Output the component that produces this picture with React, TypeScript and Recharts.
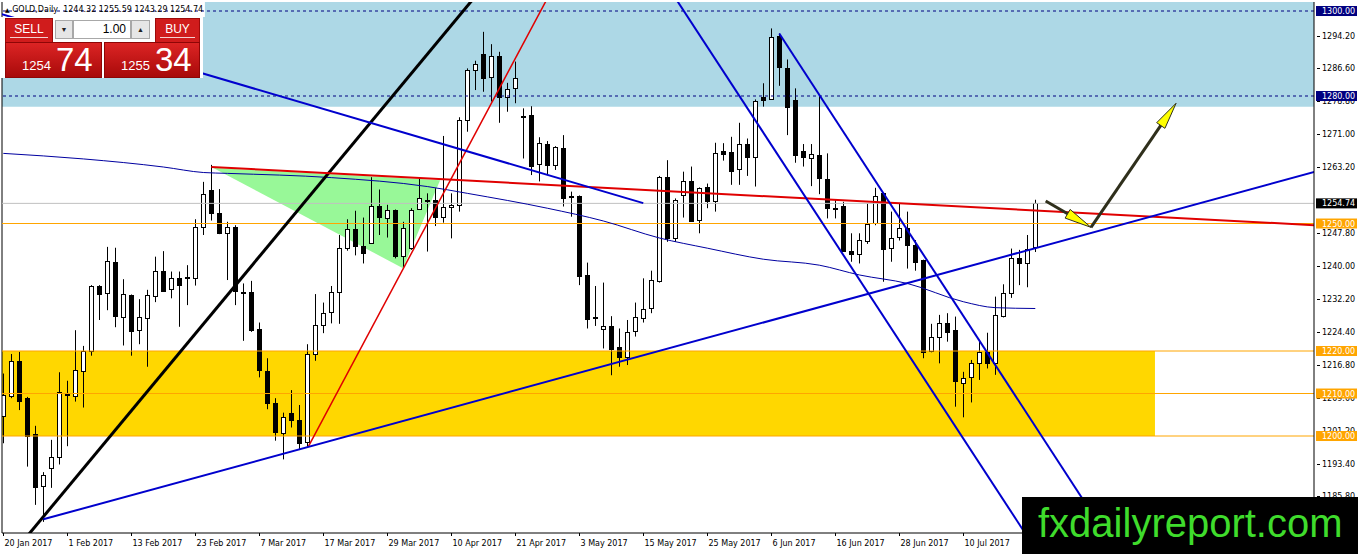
import React from "react";
import {
  ComposedChart,
  Bar,
  Line,
  Area,
  XAxis,
  YAxis,
  ReferenceLine,
  ReferenceArea,
} from "recharts";

// x axis: one unit per daily bar, y axis: price
const dateTicks = [0, 8, 16, 24, 32, 40, 48, 56, 64, 72, 80, 88, 96, 104, 112, 120];
const dateLabels = [
  "20 Jan 2017", "1 Feb 2017", "13 Feb 2017", "23 Feb 2017", "7 Mar 2017", "17 Mar 2017",
  "29 Mar 2017", "10 Apr 2017", "21 Apr 2017", "3 May 2017", "15 May 2017", "25 May 2017",
  "6 Jun 2017", "16 Jun 2017", "28 Jun 2017", "10 Jul 2017",
];

const opens = [
  1204.6, 1209.3, 1217.6, 1209.0, 1200.5, 1188.1, 1192.4, 1195.1, 1209.6, 1209.3,
  1215.4, 1220.1, 1235.4, 1233.6, 1240.9, 1227.9, 1233.2, 1224.8, 1227.7, 1233.0,
  1238.8, 1234.5, 1237.1, 1237.2, 1237.1, 1249.1, 1257.9, 1252.4, 1247.8, 1249.2,
  1234.0, 1233.8, 1225.1, 1215.3, 1207.7, 1200.6, 1205.3, 1203.8, 1198.4, 1219.2,
  1226.1, 1229.0, 1233.8, 1244.1, 1248.6, 1244.7, 1245.3, 1254.1, 1251.4, 1253.2,
  1242.4, 1244.2, 1253.3, 1255.5, 1255.5, 1251.4, 1253.8, 1254.4, 1274.4, 1286.1,
  1290.0, 1284.4, 1289.4, 1279.7, 1281.8, 1275.3, 1275.5, 1263.9, 1268.7, 1263.8,
  1267.8, 1256.4, 1256.5, 1237.9, 1227.9, 1225.1, 1225.9, 1221.0, 1218.7, 1224.5,
  1228.0, 1230.0, 1236.6, 1260.9, 1246.5, 1256.9, 1260.1, 1250.8, 1258.5, 1255.1,
  1267.1, 1266.8, 1262.7, 1268.6, 1265.6, 1279.7, 1279.2, 1294.1, 1286.7, 1279.1,
  1267.1, 1265.3, 1266.1, 1260.4, 1253.6, 1254.1, 1243.6, 1242.8, 1246.0, 1250.0,
  1257.2, 1244.4, 1246.7, 1248.9, 1244.9, 1241.4, 1219.8, 1223.2, 1226.5, 1224.9,
  1212.6, 1213.7, 1217.1, 1219.8, 1217.1, 1228.3, 1233.7, 1242.0, 1240.8, 1244.32,
];
const highs = [
  1214.7, 1219.3, 1219.8, 1209.2, 1202.4, 1191.5, 1199.1, 1215.0, 1213.0, 1224.9,
  1221.2, 1235.5, 1235.5, 1244.5, 1244.3, 1236.9, 1233.3, 1232.2, 1234.4, 1242.2,
  1243.5, 1238.7, 1238.7, 1240.2, 1251.0, 1259.8, 1263.8, 1258.1, 1250.4, 1249.6,
  1235.9, 1236.5, 1226.7, 1218.3, 1208.9, 1205.5, 1210.8, 1207.3, 1221.6, 1233.4,
  1231.4, 1235.3, 1247.3, 1251.0, 1253.0, 1251.4, 1260.9, 1258.0, 1254.4, 1253.3,
  1250.4, 1253.6, 1260.6, 1257.1, 1258.3, 1270.6, 1257.1, 1275.0, 1286.5, 1288.3,
  1295.1, 1292.2, 1290.4, 1283.1, 1288.1, 1277.1, 1277.6, 1270.3, 1269.4, 1268.2,
  1270.8, 1257.5, 1256.6, 1240.8, 1235.3, 1236.1, 1228.2, 1225.3, 1227.3, 1231.4,
  1237.1, 1238.9, 1261.2, 1264.9, 1255.9, 1262.2, 1263.4, 1258.5, 1259.4, 1269.0,
  1268.9, 1270.4, 1273.7, 1270.0, 1279.2, 1283.0, 1295.9, 1294.7, 1288.6, 1281.8,
  1268.7, 1268.7, 1280.0, 1266.5, 1255.5, 1255.1, 1247.7, 1247.7, 1254.7, 1258.4,
  1257.3, 1252.8, 1254.7, 1252.8, 1246.1, 1241.5, 1226.4, 1228.5, 1228.9, 1228.1,
  1215.1, 1217.9, 1222.6, 1224.3, 1232.8, 1235.7, 1244.1, 1243.8, 1247.3, 1255.59,
];
const lows = [
  1198.3, 1208.9, 1206.1, 1192.8, 1183.8, 1179.8, 1187.8, 1193.3, 1197.6, 1208.1,
  1206.7, 1218.9, 1227.3, 1229.6, 1225.6, 1221.3, 1218.9, 1221.6, 1216.3, 1231.5,
  1233.9, 1232.4, 1225.7, 1230.8, 1235.4, 1247.3, 1250.7, 1247.5, 1236.7, 1230.8,
  1222.4, 1224.5, 1213.8, 1206.3, 1198.9, 1194.5, 1202.0, 1196.7, 1197.5, 1217.7,
  1224.2, 1226.5, 1226.4, 1243.6, 1242.5, 1240.6, 1245.2, 1247.3, 1246.7, 1241.8,
  1239.8, 1243.8, 1253.2, 1243.4, 1249.4, 1250.2, 1246.5, 1252.8, 1271.6, 1281.4,
  1281.0, 1278.7, 1273.7, 1276.3, 1278.3, 1265.3, 1261.4, 1259.9, 1261.4, 1262.6,
  1254.0, 1251.6, 1235.5, 1225.3, 1225.9, 1220.6, 1214.3, 1216.3, 1216.7, 1223.4,
  1226.7, 1228.9, 1236.1, 1245.7, 1245.7, 1251.4, 1250.4, 1247.7, 1253.6, 1252.8,
  1264.8, 1259.1, 1259.1, 1261.2, 1258.7, 1277.5, 1279.1, 1282.4, 1270.8, 1264.3,
  1263.4, 1258.8, 1256.9, 1251.2, 1251.2, 1243.4, 1241.0, 1240.6, 1245.2, 1249.6,
  1236.3, 1241.0, 1246.0, 1239.4, 1238.9, 1218.3, 1219.7, 1217.1, 1222.2, 1206.9,
  1204.4, 1207.9, 1213.2, 1215.9, 1214.4, 1227.9, 1232.5, 1235.5, 1235.0, 1243.29,
];
const closes = [
  1209.6, 1217.6, 1208.3, 1200.0, 1188.1, 1190.8, 1195.0, 1210.3, 1209.9, 1215.5,
  1220.1, 1235.4, 1233.6, 1241.2, 1228.1, 1233.4, 1224.8, 1227.9, 1233.2, 1238.8,
  1234.0, 1237.1, 1235.5, 1237.3, 1249.1, 1256.9, 1252.4, 1247.8, 1249.1, 1234.1,
  1233.9, 1224.9, 1215.5, 1207.8, 1200.8, 1204.4, 1203.6, 1198.4, 1219.2, 1226.1,
  1228.9, 1233.8, 1244.2, 1248.6, 1244.6, 1243.1, 1254.1, 1251.6, 1253.2, 1242.4,
  1248.9, 1253.2, 1255.9, 1255.6, 1251.4, 1253.8, 1254.3, 1274.4, 1286.1, 1287.5,
  1284.4, 1289.3, 1279.7, 1281.6, 1284.2, 1275.2, 1263.6, 1268.9, 1263.8, 1268.1,
  1256.1, 1256.3, 1237.6, 1227.5, 1227.8, 1225.9, 1220.6, 1218.7, 1224.5, 1227.9,
  1230.0, 1236.7, 1261.0, 1246.5, 1255.5, 1260.1, 1250.7, 1258.3, 1255.1, 1266.5,
  1266.4, 1262.4, 1268.6, 1265.6, 1278.8, 1279.1, 1293.8, 1286.7, 1277.5, 1266.1,
  1265.6, 1266.3, 1260.6, 1253.6, 1253.5, 1243.6, 1242.8, 1246.1, 1250.0, 1256.4,
  1244.1, 1246.7, 1248.9, 1244.9, 1241.0, 1219.8, 1223.2, 1226.5, 1224.5, 1212.8,
  1213.7, 1217.1, 1219.8, 1217.1, 1228.5, 1233.6, 1242.0, 1240.8, 1244.1, 1254.74,
];

// moving average read at a few bars
const maBars = [0, 10, 20, 25, 28, 41, 53, 58, 68, 75, 82, 88, 95, 102, 107, 113, 120, 124, 129];
const maValues = [
  1266.5, 1265.2, 1263.3, 1262.0, 1261.8, 1260.8, 1258.7, 1257.1, 1253.6, 1250.6,
  1246.6, 1244.2, 1241.6, 1240.2, 1237.9, 1235.9, 1231.6, 1230.2, 1230.0,
];

// drawn objects, [bar, price] pairs
const blackTrend = [[2, 1174.2], [60, 1305.7]];
const redSteep = [[38.13, 1197.5], [70, 1310.0]];
const redFlat = [[26, 1263.3], [165, 1249.5]];
const blueDown = [[-5, 1301.9], [80, 1254.8]];
const blueUp = [[5, 1180.4], [170, 1265.3]];
const channelA = [[80, 1314.6], [135, 1156.2]];
const channelB = [[97, 1294.7], [140, 1170.5]];
const arrowOne = [[130.3, 1255.3], [135.96, 1249.1]];
const arrowTwo = [[135.96, 1249.1], [146.6, 1278.3]];
const triangleBars = [26.2, 49.96, 54.6];
const triangleLow = [1263.1, 1239.5, 1260.2];
const triangleHigh = [1263.1, 1260.7, 1260.2];

const priceTicks = [
  1294.2, 1286.6, 1278.8, 1271.0, 1263.2, 1247.8, 1240.0, 1232.2, 1224.4, 1216.8,
  1209.0, 1201.2, 1193.4, 1185.8,
];
const levelTicks = [1300, 1280, 1254.74, 1250, 1220, 1210, 1200];

const X_MIN = -0.1625;
const X_MAX = 163.84;
const Y_MIN = 1177.18;
const Y_MAX = 1302.12;
const BLUE_ZONE_LOW = 1277.5;
const HEADER_EDGE = 1298.59;
const HEADER_BAR = 25.2;
const YELLOW_END = 143.96;

const candles = opens.map((o, i) => ({
  i,
  o,
  h: highs[i],
  l: lows[i],
  c: closes[i],
  range: [lows[i], highs[i]],
}));
const maData = maBars.map((b, k) => ({ i: b, v: maValues[k] }));
const triData = triangleBars.map((b, k) => ({ i: b, r: [triangleLow[k], triangleHigh[k]] }));

const mtFont = "DejaVu Sans";

function levelColor(v: number) {
  if (v >= 1280) return "#000080";
  if (v === 1254.74) return "#000000";
  return "#ffa500";
}

const Candle = (props: any) => {
  const { x, y, width, height, payload } = props;
  if (x == null || payload == null) return null;
  const top = Math.min(y, y + height);
  const h = Math.abs(height);
  const span = payload.h - payload.l || 1;
  const ppu = h / span;
  const yO = top + (payload.h - payload.o) * ppu;
  const yC = top + (payload.h - payload.c) * ppu;
  const cx = Math.round(x + width / 2) + 0.5;
  const bTop = Math.round(Math.min(yO, yC)) + 0.5;
  const bH = Math.max(Math.round(Math.abs(yO - yC)), 1);
  const bull = payload.c >= payload.o;
  return (
    <g>
      <line x1={cx} x2={cx} y1={top} y2={top + h} stroke="#000" strokeWidth={1} />
      <rect
        x={cx - 2}
        y={bTop}
        width={4}
        height={bH}
        fill={bull ? "#fff" : "#000"}
        stroke="#000"
        strokeWidth={1}
      />
    </g>
  );
};

const DateTick = (props: any) => {
  const { x, y, payload } = props;
  const k = dateTicks.indexOf(payload.value);
  const px = Math.round(x) + 0.5;
  return (
    <g>
      <line x1={px} x2={px} y1={y} y2={y + 3} stroke="#000" />
      <text x={px + 1} y={y + 13} fontSize={8} fontFamily={mtFont} fill="#000">
        {dateLabels[k]}
      </text>
    </g>
  );
};

const PriceTick = (props: any) => {
  const { x, y, payload } = props;
  const v = payload.value;
  if (levelTicks.indexOf(v) >= 0) {
    return (
      <g>
        <rect x={x + 2} y={y - 5} width={41} height={10} fill={levelColor(v)} />
        <text x={x + 8} y={y + 3} fontSize={8} fontFamily={mtFont} fill="#fff">
          {v.toFixed(2)}
        </text>
      </g>
    );
  }
  return (
    <g>
      <line x1={x + 3} x2={x + 6} y1={Math.round(y) + 0.5} y2={Math.round(y) + 0.5} stroke="#000" />
      <text x={x + 8} y={y + 3} fontSize={8} fontFamily={mtFont} fill="#000">
        {v.toFixed(2)}
      </text>
    </g>
  );
};

const ArrowShape = (props: any) => {
  const { x1, y1, x2, y2, clipPath } = props;
  const dx = x2 - x1;
  const dy = y2 - y1;
  const len = Math.hypot(dx, dy) || 1;
  const ux = dx / len;
  const uy = dy / len;
  const bx = x2 - ux * 27;
  const by = y2 - uy * 27;
  const w = 5;
  const pts = `${x2},${y2} ${bx - uy * w},${by + ux * w} ${bx + uy * w},${by - ux * w}`;
  return (
    <g clipPath={clipPath}>
      <line x1={x1} y1={y1} x2={bx + ux * 4} y2={by + uy * 4} stroke="#2f2f1c" strokeWidth={3} />
      <polygon points={pts} fill="#ffff00" stroke="#2f2f1c" strokeWidth={1} />
    </g>
  );
};

const seg = (p: number[][]) => [
  { x: p[0][0], y: p[0][1] },
  { x: p[1][0], y: p[1][1] },
];

const redBox: React.CSSProperties = {
  position: "absolute",
  background: "#d01c1c",
  border: "1px solid #9c0a0a",
  boxSizing: "border-box",
  color: "#fff",
  fontSize: 12,
  textAlign: "center",
};
const bigBox: React.CSSProperties = {
  position: "absolute",
  background: "linear-gradient(#dc2424, #a80a0a)",
  border: "1px solid #8e0606",
  boxSizing: "border-box",
  color: "#fff",
};
const greyBtn: React.CSSProperties = {
  position: "absolute",
  top: 20,
  height: 19,
  background: "#e6e6e6",
  border: "1px solid #a8a8a8",
  boxSizing: "border-box",
  fontSize: 7,
  textAlign: "center",
  lineHeight: "17px",
  color: "#222",
};

export default function App() {
  return (
    <div
      style={{
        position: "absolute",
        left: 0,
        top: 0,
        width: 1358,
        height: 554,
        background: "#fff",
        overflow: "hidden",
        fontFamily: "'Liberation Sans', Arial, sans-serif",
      }}
    >
      <ComposedChart
        width={1358}
        height={554}
        data={candles}
        margin={{ top: 2, right: 0, bottom: 0, left: 2 }}
      >
        <XAxis
          dataKey="i"
          type="number"
          scale="linear"
          domain={[X_MIN, X_MAX]}
          allowDataOverflow
          ticks={dateTicks}
          interval={0}
          tickSize={0}
          tickMargin={0}
          tickLine={false}
          axisLine={{ stroke: "#000" }}
          tick={<DateTick />}
          height={21}
        />
        <YAxis
          orientation="right"
          type="number"
          domain={[Y_MIN, Y_MAX]}
          allowDataOverflow
          ticks={[...priceTicks, ...levelTicks]}
          interval={0}
          tickSize={0}
          tickMargin={0}
          tickLine={false}
          axisLine={{ stroke: "#000" }}
          tick={<PriceTick />}
          width={44}
        />

        <ReferenceArea x1={X_MIN} x2={X_MAX} y1={BLUE_ZONE_LOW} y2={HEADER_EDGE} fill="#add8e6" fillOpacity={1} stroke="none" ifOverflow="hidden" />
        <ReferenceArea x1={HEADER_BAR} x2={X_MAX} y1={HEADER_EDGE} y2={Y_MAX} fill="#add8e6" fillOpacity={1} stroke="none" ifOverflow="hidden" />
        <ReferenceArea x1={X_MIN} x2={YELLOW_END} y1={1200} y2={1220} fill="#ffd700" fillOpacity={1} stroke="none" ifOverflow="hidden" />

        <Area
          data={triData}
          dataKey="r"
          type="linear"
          fill="#98f898"
          fillOpacity={1}
          stroke="none"
          isAnimationActive={false}
          dot={false}
          activeDot={false}
        />

        <ReferenceLine x={X_MIN} stroke="#000" />
        <ReferenceLine y={1300} stroke="#000080" strokeDasharray="3 3" />
        <ReferenceLine y={1280} stroke="#000080" strokeDasharray="3 3" />
        <ReferenceLine y={1254.74} stroke="#c0c0c0" />
        <ReferenceLine y={1250} stroke="#ffa500" />
        <ReferenceLine y={1220} stroke="#ffa500" />
        <ReferenceLine y={1210} stroke="#ffa500" />
        <ReferenceLine y={1200} stroke="#ffa500" />

        <Bar dataKey="range" barSize={5} shape={<Candle />} isAnimationActive={false} />

        <Line
          data={maData}
          dataKey="v"
          type="monotone"
          stroke="#0000a0"
          strokeWidth={1}
          dot={false}
          activeDot={false}
          isAnimationActive={false}
        />

        <ReferenceLine segment={seg(blackTrend)} stroke="#000" strokeWidth={3} ifOverflow="hidden" />
        <ReferenceLine segment={seg(redSteep)} stroke="#e00000" strokeWidth={1.5} ifOverflow="hidden" />
        <ReferenceLine segment={seg(redFlat)} stroke="#e00000" strokeWidth={2} ifOverflow="hidden" />
        <ReferenceLine segment={seg(blueDown)} stroke="#0000cd" strokeWidth={2} ifOverflow="hidden" />
        <ReferenceLine segment={seg(blueUp)} stroke="#0000cd" strokeWidth={2} ifOverflow="hidden" />
        <ReferenceLine segment={seg(channelA)} stroke="#0000cd" strokeWidth={2} ifOverflow="hidden" />
        <ReferenceLine segment={seg(channelB)} stroke="#0000cd" strokeWidth={2} ifOverflow="hidden" />
        <ReferenceLine segment={seg(arrowOne)} ifOverflow="hidden" shape={(p: any) => <ArrowShape {...p} />} />
        <ReferenceLine segment={seg(arrowTwo)} ifOverflow="hidden" shape={(p: any) => <ArrowShape {...p} />} />
      </ComposedChart>

      {/* header line */}
      <div
        style={{
          position: "absolute",
          left: 5,
          top: 5,
          fontFamily: mtFont,
          fontSize: 8,
          lineHeight: "10px",
          color: "#000",
          whiteSpace: "pre",
        }}
      >
        <span style={{ fontSize: 6 }}>▲</span> GOLD,Daily  1244.32 1255.59 1243.29 1254.74
      </div>

      {/* one-click trading panel */}
      <div style={{ position: "absolute", left: 0, top: 17, width: 203, height: 61, background: "#fff" }} />
      <div style={{ ...redBox, left: 5, top: 18, width: 48, height: 25 }}>
        <div style={{ margin: "3px 4px 0", borderBottom: "1px solid #f4d0d0", lineHeight: "15px" }}>SELL</div>
      </div>
      <div style={{ ...greyBtn, left: 55, width: 18 }}>▼</div>
      <div
        style={{
          position: "absolute",
          left: 73,
          top: 20,
          width: 58,
          height: 19,
          background: "#fff",
          border: "1px solid #a8a8a8",
          boxSizing: "border-box",
          fontSize: 12,
          lineHeight: "17px",
          textAlign: "right",
          paddingRight: 4,
          color: "#000",
        }}
      >
        1.00
      </div>
      <div style={{ ...greyBtn, left: 131, width: 19 }}>▲</div>
      <div style={{ ...redBox, left: 155, top: 18, width: 45, height: 25 }}>
        <div style={{ margin: "3px 4px 0", borderBottom: "1px solid #f4d0d0", lineHeight: "15px" }}>BUY</div>
      </div>
      <div style={{ ...bigBox, left: 5, top: 42, width: 97, height: 36 }}>
        <span style={{ position: "absolute", left: 16, bottom: 5, fontSize: 13, lineHeight: "13px" }}>1254</span>
        <span style={{ position: "absolute", left: 50, bottom: 2, fontSize: 33, lineHeight: "30px" }}>74</span>
      </div>
      <div style={{ ...bigBox, left: 104, top: 42, width: 96, height: 36 }}>
        <span style={{ position: "absolute", left: 16, bottom: 5, fontSize: 13, lineHeight: "13px" }}>1255</span>
        <span style={{ position: "absolute", left: 50, bottom: 2, fontSize: 33, lineHeight: "30px" }}>34</span>
      </div>

      {/* watermark */}
      <div style={{ position: "absolute", left: 1022, top: 497, width: 336, height: 57, background: "#000" }}>
        <div
          style={{
            position: "absolute",
            left: 16,
            top: 6,
            fontSize: 40,
            lineHeight: "40px",
            color: "#3fdc2c",
            fontFamily: "'Liberation Sans', Arial, sans-serif",
            whiteSpace: "nowrap",
          }}
        >
          fxdailyreport.com
        </div>
      </div>
    </div>
  );
}
